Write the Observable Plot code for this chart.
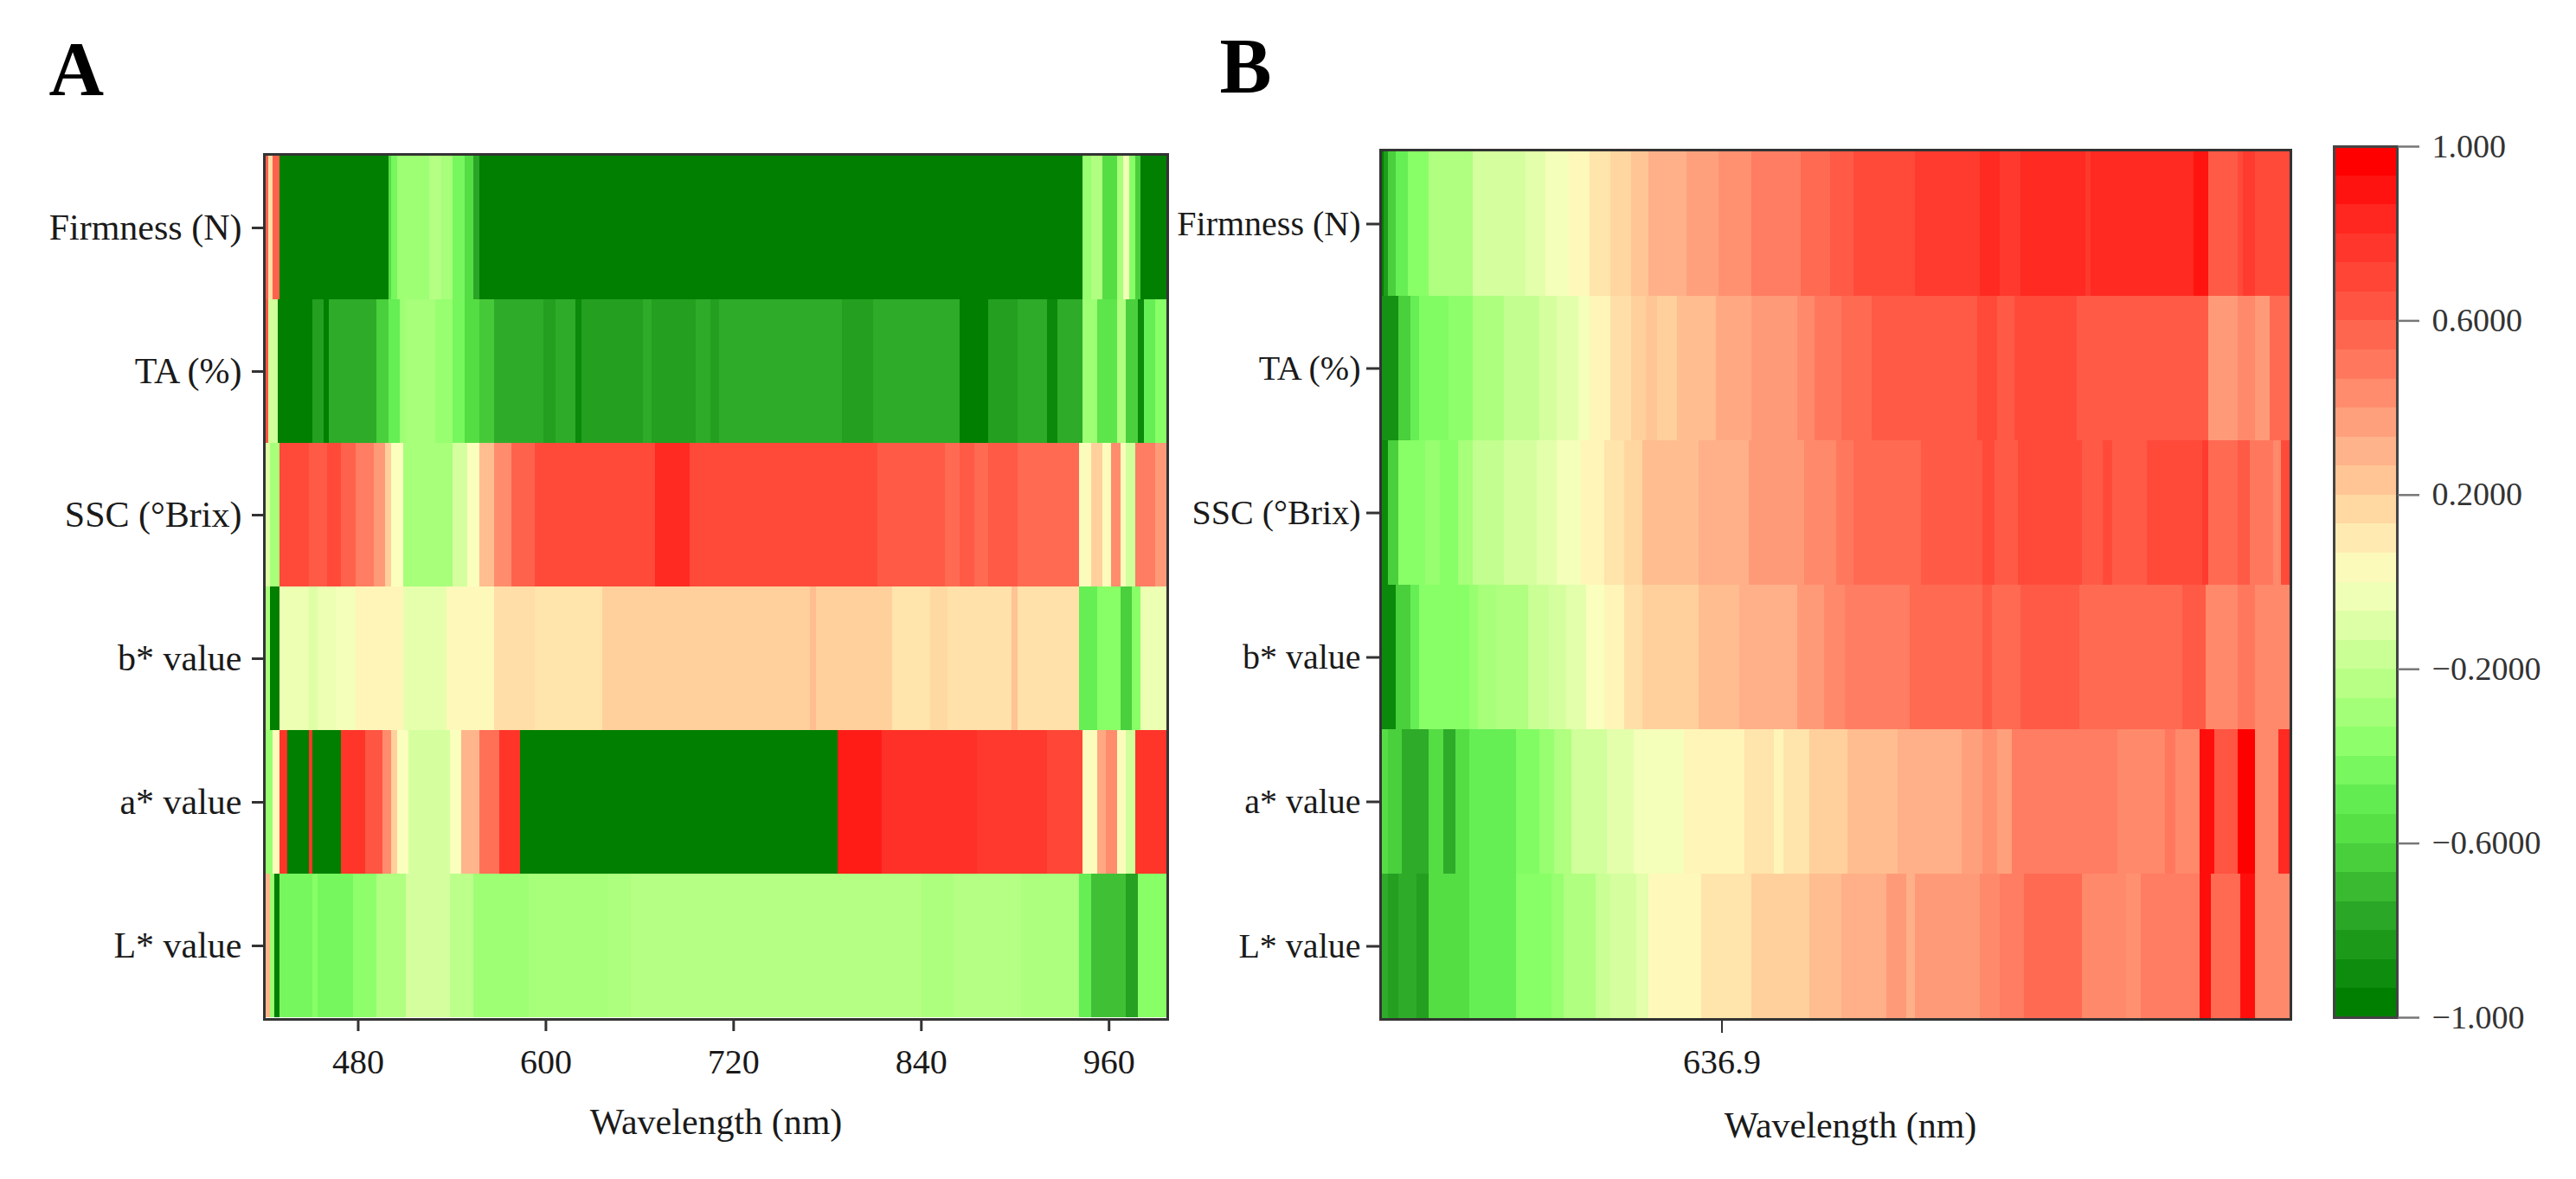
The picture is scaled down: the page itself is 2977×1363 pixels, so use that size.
<!DOCTYPE html>
<html>
<head>
<meta charset="utf-8">
<script src="https://cdn.jsdelivr.net/npm/d3@7"></script>
<script src="https://cdn.jsdelivr.net/npm/@observablehq/plot@0.6"></script>
<style>
  body { margin: 0; background: #fff; }
  #fig { position: relative; width: 2977px; height: 1363px; background: #fff; overflow: hidden; }
  #fig > svg { position: absolute; top: 0; }
</style>
</head>
<body>
<div id="fig"></div>
<script>
// ---------- categories ----------
const traits = ["Firmness (N)", "TA (%)", "SSC (°Brix)", "b* value", "a* value", "L* value"];

// ---------- colour map (correlation coefficient -> colour) ----------
const anchorValues = [-1, -0.8, -0.6, -0.5, -0.4, -0.27, -0.13, 0, 0.07, 0.2, 0.32, 0.4, 0.5, 0.63, 0.7, 0.85, 1];
const anchorColors = ["#007F00", "#2AA526", "#55DD44", "#66EE55", "#88FF66", "#B0FF80", "#D5FF9F", "#FAFFBE",
                      "#FFF5B8", "#FFD09C", "#FFB088", "#FF9A78", "#FF7D62", "#FF5A46", "#FF4A3A", "#FF2A22", "#FF0000"];
const legendTicks = [-1, -0.6, -0.2, 0.2, 0.6, 1];
const legendTickLabels = ["\u22121.000", "\u22120.6000", "\u22120.2000", "0.2000", "0.6000", "1.000"];
const legendSteps = 30;

// ---------- panel A : full spectrum (start wavelength nm, r) ----------
const aDomain = [420, 997.5];
const aTicks = [480, 600, 720, 840, 960];
const aFirmness = [[420,0.6],[422.5,0.15],[425.5,0.6],[430.2,-1],[499.5,-0.6],[501.3,-0.45],[505,-0.33],[525.7,-0.25],[533.2,-0.3],[540.7,-0.45],[548.1,-0.6],[553.8,-0.8],[557.5,-1],[943.1,-0.35],[948.7,-0.27],[956.2,-0.6],[965.6,-0.3],[969.5,-0.03],[973,-0.4],[976.8,-0.65],[980.6,-1]];
const aTA = [[420,0.65],[422.7,-0.15],[429.1,-1],[450.8,-0.83],[458.3,-1],[461.3,-0.78],[492,-0.65],[499.5,-0.5],[507,-0.33],[510.7,-0.3],[529.4,-0.35],[540.7,-0.45],[548.1,-0.6],[557.5,-0.67],[566.9,-0.78],[598.7,-0.83],[606.2,-0.78],[619.3,-0.95],[623,-0.83],[662.3,-0.78],[668,-0.83],[696,-0.78],[705.4,-0.83],[711,-0.78],[789.6,-0.83],[809.5,-0.78],[864.5,-1],[883.2,-0.83],[901.9,-0.78],[920.7,-0.95],[927,-0.78],[943.1,-0.33],[952.5,-0.55],[965.6,-0.27],[971.2,-0.65],[978.7,-0.95],[982.4,-0.5],[989.9,-0.4]];
const aSSC = [[420,-0.1],[423.8,-0.3],[430.2,0.7],[448.9,0.63],[460.2,0.7],[469.5,0.6],[478.9,0.5],[490.1,0.4],[497.6,0.2],[501.3,0],[508.8,-0.3],[540.7,-0.13],[550,0],[557.5,0.27],[566.9,0.45],[578.1,0.6],[593.1,0.7],[669.8,0.85],[692.3,0.7],[812.1,0.63],[855.1,0.57],[864.5,0.63],[873.9,0.57],[883.2,0.63],[901.9,0.57],[941.3,0.02],[948.7,0.2],[956.2,0.02],[961.8,0.45],[967.5,0.02],[971.2,-0.15],[976.8,0.5],[989.9,0.4]];
const aBstar = [[420,-0.3],[423.8,-1],[430.2,-0.05],[448.9,-0.1],[454.5,-0.05],[465.8,-0.02],[478.9,0.07],[508.8,-0.07],[536.9,0.05],[566.9,0.15],[593.1,0.13],[636.1,0.2],[769,0.27],[772.8,0.2],[821.5,0.13],[845.8,0.17],[857,0.14],[898.2,0.25],[901.9,0.14],[941.3,-0.5],[952.5,-0.4],[967.5,-0.65],[975,-0.4],[980.6,-0.05]];
const aAstar = [[420,-0.35],[425.3,0.02],[430.2,0.8],[435.1,-1],[448.9,0.8],[450.8,-1],[469.5,0.8],[484.5,0.65],[495.7,0.45],[501.3,0.2],[505.1,0],[512.6,-0.13],[538.8,0],[546.3,0.3],[557.5,0.55],[570.6,0.8],[583.7,-1],[787,0.9],[814.7,0.82],[875.7,0.78],[920.7,0.72],[943.1,0.02],[952.5,0.35],[958.1,0.45],[965.6,0.02],[971.2,-0.15],[976.8,0.8]];
const aLstar = [[420,0.3],[423.8,-0.35],[426.5,-1],[430.2,-0.45],[450.8,-0.4],[454.5,-0.45],[477,-0.38],[492,-0.27],[510.7,-0.13],[538.8,-0.22],[553.8,-0.33],[589.3,-0.3],[639.9,-0.28],[654.8,-0.25],[840.2,-0.28],[860.8,-0.25],[903.8,-0.28],[941.3,-0.5],[948.7,-0.7],[971.2,-0.82],[978.7,-0.4]];

// ---------- panel B : selected band (start wavelength nm, r) ----------
const bDomain = [600, 698.4];
const bTicks = [636.9];
const bFirmness = [[600,-1],[600.4,-0.85],[600.8,-0.65],[601.7,-0.5],[603,-0.4],[605.2,-0.27],[610,-0.13],[615.7,-0.08],[617.9,-0.02],[620.4,0.05],[622.6,0.13],[624.9,0.18],[627.1,0.24],[629,0.32],[633.1,0.38],[636.6,0.43],[640.1,0.5],[645.5,0.57],[648.6,0.63],[651.2,0.7],[657.8,0.77],[664.8,0.85],[667,0.78],[669.2,0.85],[676.2,0.78],[676.8,0.85],[687.9,0.93],[689.5,0.63],[692.7,0.7],[693.3,0.77],[694.6,0.7]];
const bTA = [[600,-0.9],[602,-0.65],[603.3,-0.5],[604.2,-0.42],[607.4,-0.38],[610,-0.28],[613.4,-0.2],[617.2,-0.13],[619.1,-0.08],[621.4,-0.02],[622.6,0.07],[624.9,0.15],[627.1,0.2],[628.7,0.24],[629.9,0.2],[632.1,0.27],[636.3,0.35],[640.1,0.4],[645.1,0.46],[647,0.52],[649.9,0.57],[653.1,0.63],[664.5,0.7],[666.7,0.63],[668.6,0.7],[675.3,0.63],[689.5,0.4],[692.7,0.46],[694.6,0.4],[696.2,0.57]];
const bSSC = [[600,-0.95],[600.8,-0.65],[602,-0.4],[604.9,-0.35],[606.5,-0.4],[608.4,-0.3],[610,-0.2],[613.4,-0.13],[616.9,-0.08],[619.1,-0.02],[621.7,0.07],[624.2,0.13],[626.4,0.18],[628.3,0.27],[634.4,0.32],[639.8,0.4],[645.8,0.46],[649.3,0.52],[651.2,0.57],[658.5,0.63],[665.1,0.7],[666.4,0.63],[668.9,0.7],[675.9,0.63],[678.1,0.7],[679.1,0.63],[682.9,0.7],[688.9,0.77],[689.5,0.57],[692.7,0.63],[694,0.52],[696.5,0.46],[697.4,0.7]];
const bBstar = [[600,-0.95],[601.7,-0.65],[603.3,-0.5],[604.2,-0.4],[609.6,-0.35],[610.6,-0.3],[612.5,-0.27],[616,-0.17],[618.2,-0.13],[620.1,-0.08],[622.3,0],[624.2,0.07],[626.4,0.15],[628.3,0.2],[634.4,0.27],[638.8,0.32],[645.1,0.4],[648,0.46],[650.2,0.5],[657.2,0.57],[665.1,0.63],[666.1,0.57],[669.2,0.63],[675.6,0.57],[686.7,0.63],[689.2,0.46],[692.7,0.52],[694.6,0.46]];
const bAstar = [[600,-0.6],[600.8,-0.65],[602.3,-0.78],[605.2,-0.6],[606.8,-0.78],[608.1,-0.6],[609.6,-0.5],[614.7,-0.42],[617.2,-0.35],[618.8,-0.27],[620.7,-0.15],[624.5,-0.08],[627.4,-0.02],[632.8,0.07],[639.4,0.13],[642.6,0.07],[643.6,0.13],[646.4,0.2],[650.5,0.27],[655.9,0.32],[662.9,0.38],[665.1,0.43],[666.7,0.38],[668.3,0.5],[679.7,0.46],[684.8,0.52],[686,0.46],[688.6,0.95],[690.2,0.65],[692.7,1],[694.6,0.46],[697.1,0.85]];
const bLstar = [[600,-0.78],[600.8,-0.83],[602,-0.78],[603.9,-0.83],[605.2,-0.6],[609.6,-0.5],[614.7,-0.4],[618.5,-0.35],[619.8,-0.27],[623.3,-0.17],[624.9,-0.13],[627.7,-0.08],[629,0.05],[634.7,0.13],[640.1,0.2],[646.4,0.27],[649.9,0.32],[654.7,0.4],[656.9,0.32],[657.8,0.4],[664.8,0.46],[667,0.5],[669.6,0.57],[675.9,0.46],[680.6,0.43],[682.2,0.5],[688.6,0.95],[689.8,0.57],[693,0.95],[694.6,0.46]];

// ---------- build tables ----------
function segments(trait, pairs, end) {
  return pairs.map(([s, v], i) => ({trait, x1: s, x2: i < pairs.length - 1 ? pairs[i + 1][0] : end, v}));
}
const rowsA = [aFirmness, aTA, aSSC, aBstar, aAstar, aLstar];
const rowsB = [bFirmness, bTA, bSSC, bBstar, bAstar, bLstar];
const dataA = traits.flatMap((t, i) => segments(t, rowsA[i], aDomain[1]));
const dataB = traits.flatMap((t, i) => segments(t, rowsB[i], bDomain[1]));
const steps = d3.range(legendSteps).map(i => ({
  lo: -1 + 2 * i / legendSteps,
  hi: -1 + 2 * (i + 1) / legendSteps,
  v: -1 + 2 * i / (legendSteps - 1)
}));
const legendLabel = new Map(legendTicks.map((t, i) => [t, legendTickLabels[i]]));

const FONT = "'Liberation Serif', 'Times New Roman', serif";
const colorScale = {type: "linear", domain: anchorValues, range: anchorColors, interpolate: "rgb", clamp: true};
const ink = "#1a1a1a";

function place(svg, left) {
  svg.style.left = left + "px";
  document.getElementById("fig").appendChild(svg);
}

// ---------- panel A ----------
const plotA = Plot.plot({
  width: 1360, height: 1363,
  marginLeft: 305, marginRight: 11, marginTop: 178, marginBottom: 185,
  style: {fontFamily: FONT, fontSize: "42px", color: ink, background: "transparent"},
  x: {domain: aDomain, axis: null},
  y: {domain: traits, padding: 0, axis: null},
  color: colorScale,
  marks: [
    Plot.barX(dataA, {x1: "x1", x2: "x2", y: "trait", fill: "v", shapeRendering: "crispEdges"}),
    Plot.frame({stroke: "#333", strokeWidth: 3}),
    Plot.axisY({tickSize: 14, tickPadding: 12, fontSize: 42, label: null, stroke: "#333", strokeWidth: 3, fill: ink}),
    Plot.axisX({ticks: aTicks, tickSize: 14, tickPadding: 20, fontSize: 40, label: null, stroke: "#333", strokeWidth: 3, fill: ink}),
    Plot.text(["Wavelength (nm)"], {text: d => d, frameAnchor: "bottom", dy: 132, lineAnchor: "bottom", fontSize: 42, fill: ink}),
    Plot.text(["A"], {text: d => d, frameAnchor: "top-left", dx: -249, dy: -70, textAnchor: "start", lineAnchor: "bottom", fontSize: 88, fontWeight: "bold", fill: "#000"})
  ]
});
place(plotA, 0);

// ---------- panel B ----------
const plotB = Plot.plot({
  width: 1337, height: 1363,
  marginLeft: 275, marginRight: 10, marginTop: 173, marginBottom: 185,
  style: {fontFamily: FONT, fontSize: "40px", color: ink, background: "transparent"},
  x: {domain: bDomain, axis: null},
  y: {domain: traits, padding: 0, axis: null},
  color: colorScale,
  marks: [
    Plot.barX(dataB, {x1: "x1", x2: "x2", y: "trait", fill: "v", shapeRendering: "crispEdges"}),
    Plot.frame({stroke: "#333", strokeWidth: 3}),
    Plot.axisY({tickSize: 16, tickPadding: 7, fontSize: 40, label: null, stroke: "#333", strokeWidth: 3, fill: ink}),
    Plot.axisX({ticks: bTicks, tickFormat: d => d.toFixed(1), tickSize: 16, tickPadding: 18, fontSize: 40, label: null, stroke: "#333", strokeWidth: 2, fill: ink}),
    Plot.text(["Wavelength (nm)"], {text: d => d, frameAnchor: "bottom", dx: 17, dy: 136, lineAnchor: "bottom", fontSize: 42, fill: ink}),
    Plot.text(["B"], {text: d => d, frameAnchor: "top-left", dx: -186, dy: -67, textAnchor: "start", lineAnchor: "bottom", fontSize: 90, fontWeight: "bold", fill: "#000"})
  ]
});
place(plotB, 1320);

// ---------- colour bar ----------
const plotC = Plot.plot({
  width: 320, height: 1363,
  marginLeft: 40, marginRight: 207, marginTop: 169, marginBottom: 187,
  style: {fontFamily: FONT, fontSize: "38px", color: ink, background: "transparent"},
  x: {domain: [0, 1], axis: null},
  y: {domain: [-1, 1], axis: null},
  color: colorScale,
  marks: [
    Plot.rect(steps, {x1: 0, x2: 1, y1: "lo", y2: "hi", fill: "v", shapeRendering: "crispEdges"}),
    Plot.frame({stroke: "#444", strokeWidth: 3}),
    Plot.axisY({anchor: "right", ticks: legendTicks, tickFormat: d => legendLabel.get(d), tickSize: 25, tickPadding: 15,
                fontSize: 38, label: null, stroke: "#777", strokeWidth: 2.5, fill: "#333"})
  ]
});
place(plotC, 2657);
</script>
</body>
</html>
